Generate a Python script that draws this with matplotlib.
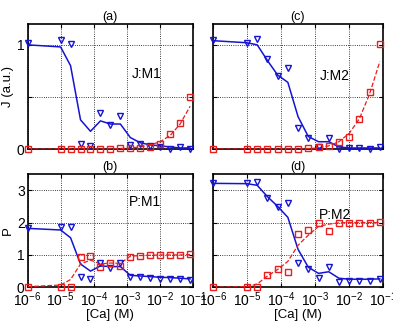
import matplotlib
matplotlib.use("Agg")
import matplotlib.pyplot as plt
import numpy as np

plt.rcParams['font.family'] = ['Liberation Sans', 'DejaVu Sans']
plt.rcParams['mathtext.fontset'] = 'custom'
plt.rcParams['mathtext.rm'] = 'Liberation Sans'
plt.rcParams['mathtext.it'] = 'Liberation Sans'

ca = [1e-6, 1e-5, 2e-5, 4e-5, 8e-5, 1.6e-4, 3.2e-4, 6.4e-4, 1.28e-3,
      2.56e-3, 5.12e-3, 1.024e-2, 2.048e-2, 4.096e-2, 8.192e-2]

# (a) J:M1
a_tri = [1.02, 1.05, 1.01, 0.05, 0.03, 0.35, 0.23, 0.32, 0.04, 0.05, 0.03, 0.02, 0.0, 0.02, 0.0]
a_blue = [1.0, 0.98, 0.8, 0.28, 0.17, 0.27, 0.24, 0.24, 0.11, 0.06, 0.04, 0.03, 0.02, 0.01, 0.01]
a_sq = [0.0, 0.0, 0.0, 0.0, 0.0, 0.0, 0.0, 0.005, 0.01, 0.01, 0.02, 0.05, 0.14, 0.25, 0.50]
a_red = [0.0, 0.0, 0.0, 0.0, 0.0, 0.0, 0.0, 0.005, 0.01, 0.02, 0.04, 0.07, 0.13, 0.24, 0.41]

# (c) J:M2
c_tri = [1.05, 1.02, 1.06, 0.86, 0.70, 0.78, 0.20, 0.11, 0.02, 0.11, 0.0, 0.01, 0.01, 0.0, 0.02]
c_blue = [1.04, 1.02, 1.0, 0.85, 0.71, 0.64, 0.31, 0.12, 0.07, 0.07, 0.02, 0.01, 0.01, 0.01, 0.01]
c_sq = [0.0, 0.0, 0.0, 0.0, 0.0, 0.0, 0.0, 0.01, 0.015, 0.03, 0.07, 0.12, 0.29, 0.55, 1.01]
c_red = [0.0, 0.0, 0.0, 0.0, 0.0, 0.0, 0.0, 0.005, 0.01, 0.03, 0.07, 0.15, 0.29, 0.53, 0.84]

# (b) P:M1
b_tri = [1.82, 1.85, 1.87, 0.31, 0.26, 0.74, 0.59, 0.74, 0.31, 0.31, 0.28, 0.27, 0.27, 0.26, 0.22]
b_blue = [1.82, 1.77, 1.53, 0.72, 0.50, 0.66, 0.64, 0.64, 0.37, 0.35, 0.33, 0.31, 0.30, 0.28, 0.26]
b_sq = [0.0, 0.0, 0.0, 0.94, 0.98, 0.64, 0.76, 0.66, 0.94, 0.96, 0.99, 0.99, 1.0, 1.0, 1.02]
b_red = [0.02, 0.07, 0.24, 0.72, 0.84, 0.72, 0.75, 0.74, 0.96, 0.98, 0.99, 1.0, 1.0, 1.0, 1.01]

# (d) P:M2
d_tri = [3.23, 3.23, 3.24, 2.77, 2.49, 2.59, 0.74, 0.56, 0.28, 0.64, 0.17, 0.20, 0.20, 0.20, 0.25]
d_blue = [3.21, 3.20, 3.15, 2.80, 2.50, 2.16, 1.17, 0.62, 0.43, 0.48, 0.28, 0.25, 0.25, 0.25, 0.26]
d_sq = [0.0, 0.0, 0.0, 0.37, 0.56, 0.48, 1.64, 1.77, 1.99, 1.75, 2.0, 2.0, 2.0, 2.0, 2.02]
d_red = [0.0, 0.02, 0.10, 0.35, 0.55, 0.80, 1.30, 1.61, 1.88, 1.95, 1.99, 2.0, 2.0, 2.0, 2.0]

panels = [
    ("(a)", "J:M1", a_tri, a_blue, a_sq, a_red, (0.070, 0.5443, 0.421, 0.3823), (0, 1.2), [0, 0.5, 1], ['0', '', '1'], True, False, (10**-2.4, 0.72)),
    ("(c)", "J:M2", c_tri, c_blue, c_sq, c_red, (0.542, 0.5443, 0.432, 0.3823), (0, 1.2), [0, 0.5, 1], ['', '', ''], False, False, (10**-2.42, 0.70)),
    ("(b)", "P:M1", b_tri, b_blue, b_sq, b_red, (0.070, 0.1214, 0.421, 0.3466), (0, 3.5), [0, 1, 2, 3], ['0', '1', '2', '3'], True, True, (10**-2.45, 2.62)),
    ("(d)", "P:M2", d_tri, d_blue, d_sq, d_red, (0.542, 0.1214, 0.432, 0.3466), (0, 3.5), [0, 1, 2, 3], ['', '', '', ''], False, True, (10**-2.42, 2.23)),
]

blue = '#1414d2'
red = '#e61e1e'

fig = plt.figure(figsize=(3.93, 3.27), dpi=100)
for title, label, tri, bl, sq, rd, pos, ylim, yt, ytl, lefty, bottomx, tpos in panels:
    ax = fig.add_axes(pos)
    ax.set_xscale('log')
    ax.plot(ca, bl, '-', color=blue, lw=1.1, zorder=3)
    ax.plot(ca, rd, '--', color=red, lw=0.9, zorder=3)
    ax.plot(ca, tri, 'v', mfc='none', mec=blue, ms=5, mew=1.0, zorder=4, clip_on=False)
    ax.plot(ca, sq, 's', mfc='none', mec=red, ms=4, mew=1.0, zorder=4, clip_on=False)
    ax.set_xlim(1e-6, 1e-1)
    ax.set_ylim(*ylim)
    ax.set_yticks(yt)
    ax.set_yticklabels(ytl)
    ax.set_xticks([1e-6, 1e-5, 1e-4, 1e-3, 1e-2, 1e-1])
    ax.minorticks_off()
    if not bottomx:
        ax.set_xticklabels([])
    else:
        ax.set_xlabel('[Ca] (M)', fontsize=9.5, labelpad=0)
    ax.tick_params(direction='in', length=3, labelsize=10, pad=2, top=True, right=True)
    ax.grid(True, color='black', linestyle=':', lw=0.6)
    for s in ax.spines.values():
        s.set_linewidth(1.2)
    ax.set_title(title, fontsize=9, pad=3)
    ax.text(tpos[0], tpos[1], label, fontsize=10, ha='center', va='center')
    if lefty:
        ax.set_ylabel('J (a.u.)' if title == '(a)' else 'P', fontsize=9.5, labelpad=2)

fig.savefig('out.png', dpi=100)
